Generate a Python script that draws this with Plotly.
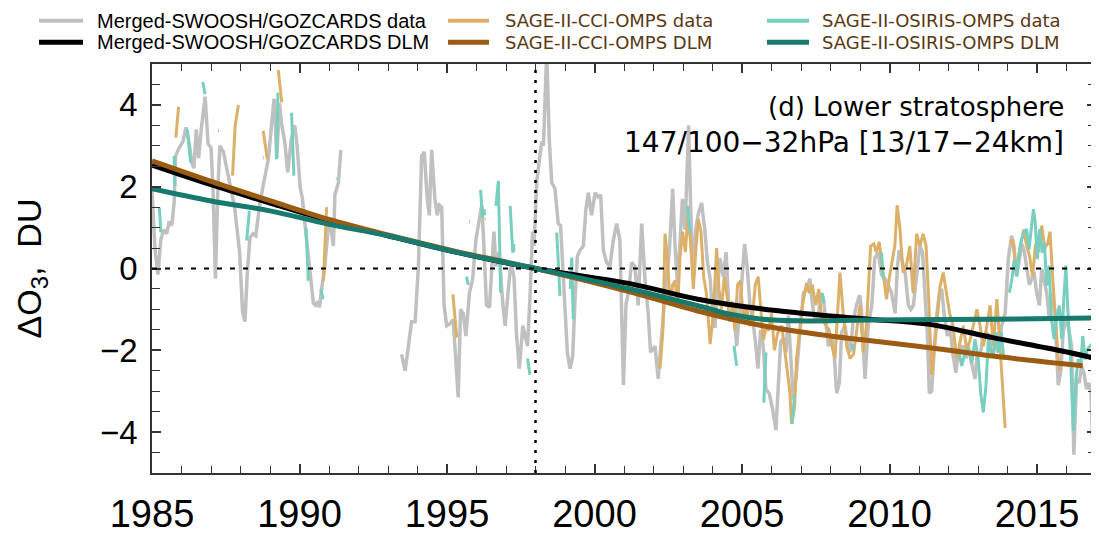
import plotly.graph_objects as go

# ---------------- data ----------------
merged_t = [1985.0, 1985.1, 1985.2, 1985.3, 1985.4, 1985.5, 1985.58, 1985.67, 1985.75, 1985.8, 1985.92,
            1986.05, 1986.15, 1986.25, 1986.35, 1986.42, 1986.5, 1986.58, 1986.67, 1986.8, 1986.9,
            1987.0, 1987.07, 1987.15, 1987.23, 1987.3, 1987.42, 1987.53, 1987.65, 1987.8, 1987.97,
            1988.07, 1988.15, 1988.23, 1988.32, 1988.42, 1988.52, 1988.64, 1988.76, 1988.86, 1988.95,
            1989.05, 1989.14, 1989.23, 1989.32, 1989.4, 1989.5, 1989.6, 1989.72, 1989.84, 1989.92,
            1990.02, 1990.1, 1990.19, 1990.27, 1990.36, 1990.47, 1990.55, 1990.62, 1990.68, 1990.75,
            1990.86, 1990.98, 1991.08, 1991.15, 1991.2, 1991.32, 1991.4,
            None,
            1993.46, 1993.58, 1993.69, 1993.8, 1993.92, 1994.03, 1994.14, 1994.23, 1994.33, 1994.4,
            1994.48, 1994.59, 1994.67, 1994.74, 1994.82, 1994.9, 1994.99, 1995.1, 1995.21, 1995.3,
            1995.38, 1995.46, 1995.55, 1995.64, 1995.76, 1995.87, 1995.98, 1996.06, 1996.18, 1996.25,
            1996.34, 1996.44, 1996.51, 1996.59, 1996.66, 1996.77, 1996.89, 1996.97, 1997.08, 1997.17,
            1997.27, 1997.36, 1997.45, 1997.57, 1997.65, 1997.73, 1997.82, 1997.9, 1997.95, 1998.04,
            1998.13, 1998.21, 1998.27, 1998.33, 1998.38, 1998.47, 1998.55, 1998.66, 1998.77, 1998.85,
            1998.92, 1999.0, 1999.08, 1999.17, 1999.26, 1999.34, 1999.42, 1999.51, 1999.62, 1999.71,
            1999.79, 1999.9, 2000.02, 2000.12, 2000.21, 2000.3, 2000.41, 2000.52, 2000.64, 2000.75,
            2000.86, 2000.98, 2001.07, 2001.15, 2001.26, 2001.37, 2001.48, 2001.6, 2001.71, 2001.82,
            2001.9, 2002.05, 2002.16, 2002.24, 2002.33, 2002.42, 2002.54, 2002.65, 2002.73, 2002.81,
            2002.9, 2002.98, 2003.07, 2003.15, 2003.19, 2003.26, 2003.35, 2003.43, 2003.52, 2003.63,
            2003.74, 2003.82, 2003.92, 2004.0, 2004.08, 2004.16, 2004.25, 2004.37, 2004.46, 2004.55,
            2004.65, 2004.73, 2004.82, 2004.91, 2005.0, 2005.09, 2005.18, 2005.27, 2005.36, 2005.45,
            2005.54, 2005.63, 2005.72, 2005.81, 2005.92, 2006.04, 2006.15, 2006.23, 2006.31, 2006.4,
            2006.49, 2006.57, 2006.65, 2006.74, 2006.83, 2006.91, 2006.99, 2007.08, 2007.2, 2007.3,
            2007.39, 2007.47, 2007.58, 2007.67, 2007.76, 2007.85, 2007.93, 2008.04, 2008.12, 2008.21,
            2008.3, 2008.38, 2008.49, 2008.6, 2008.66, 2008.77, 2008.88, 2008.99, 2009.05, 2009.12,
            2009.17, 2009.28, 2009.4, 2009.5, 2009.62, 2009.73, 2009.85, 2009.96, 2010.07, 2010.19,
            2010.27, 2010.33, 2010.41, 2010.53, 2010.64, 2010.72, 2010.81, 2010.92, 2011.03, 2011.12,
            2011.2, 2011.28, 2011.35, 2011.43, 2011.51, 2011.6, 2011.69, 2011.77, 2011.85, 2011.96,
            2012.05, 2012.14, 2012.25, 2012.33, 2012.39, 2012.5, 2012.59, 2012.67, 2012.78, 2012.9,
            2012.98, 2013.07, 2013.16, 2013.27, 2013.38, 2013.46, 2013.58, 2013.69, 2013.8, 2013.92,
            2014.03, 2014.14, 2014.22, 2014.31, 2014.4, 2014.48, 2014.56, 2014.65, 2014.74, 2014.82,
            2014.9, 2014.99, 2015.08, 2015.16, 2015.24, 2015.33, 2015.42, 2015.5, 2015.61, 2015.72,
            2015.8, 2015.89, 2015.98, 2016.06, 2016.17, 2016.25, 2016.34, 2016.43, 2016.51, 2016.59,
            2016.68, 2016.77, 2016.83, 2016.91, 2016.97, 2017.0]
merged_v = [1.9, 0.5, -0.15, 0.7, 0.95, 0.85, 1.15, 1.05, 1.6, 2.75, 2.95,
            3.1, 3.45, 3.1, 2.6, 2.45, 3.4, 2.7, 3.4, 4.2, 3.05,
            2.95, 1.9, -0.25, 1.9, 3.0, 2.85, 2.45, 2.0, 1.5, 0.4,
            -1.05, -1.3, -0.1, 0.75, 0.85, 0.8, 1.5, 2.0, 2.35, 2.7,
            3.5, 4.15, 2.7, 4.05, 3.5, 3.1, 2.35, 3.15, 3.5, 3.0,
            2.0, 1.7, 1.05, 0.4, -0.1, -0.85, -0.9, -0.8, -0.95, -0.5,
            0.05, 1.05, 0.9, 0.55, 1.8, 2.1, 2.9,
            None,
            -2.1, -2.5, -1.9, -1.3, -1.3, 0.05, 2.75, 2.85, 1.7, 1.3,
            2.9, 1.7, 1.3, 1.55, 1.5, -0.9, -1.4, -1.35, -1.25, -2.2,
            -3.15, -1.0, -1.1, -1.65, -0.6, -0.25, 0.7, 1.05, 1.55, 0.55,
            -0.9, -0.95, 0.05, 0.9, 0.05, 0.4, -0.85, -1.4, -0.5, 0.15,
            -0.2, -1.65, -2.45, -1.4, -1.65, -1.9, -0.6, 0.9, 0.55, 2.1,
            2.65, 3.1, 3.0, 4.4, 5.3, 3.1, 2.1, 1.95, 1.1, 1.05,
            0.15, -1.05, -2.05, -2.45, -2.15, -0.75, 0.3, 0.45, 0.55, 1.45,
            1.85, 1.3, 1.85, 1.75, 1.8, 0.45, 0.15, 0.05, 0.7, 1.1,
            0.7, -2.85, -0.85, -0.6, 0.15, 0.05, -0.9, 1.1, -0.25, -1.1,
            -2.05, -1.9, -2.7, -1.95, -1.1, -0.4, 0.45, 1.95, 0.55, -0.35,
            0.65, 1.7, 0.95, 2.35, 3.5, 1.45, -0.25, 0.95, 1.35, 1.6,
            0.95, 0.2, -0.25, -1.1, -1.45, -0.6, 0.25, -0.2, 0.4, -0.9,
            -0.85, -1.15, -1.9, -1.1, -0.25, 0.6, 0.0, -0.9, -1.25, -1.75,
            -2.45, -1.5, -1.9, -2.95, -3.05, -3.45, -3.95, -2.85, -1.8, -1.7,
            -2.05, -1.15, -2.05, -3.2, -2.7, -2.05, -1.4, -0.6, -0.5, -0.25,
            -0.9, -1.25, -1.25, -0.6, -0.75, -1.4, -1.9, -1.65, -2.05, -3.05,
            -2.8, -1.55, -1.4, -1.9, -2.05, -1.3, -0.9, -0.65, -1.0, -2.05,
            -2.7, -1.4, -0.9, 0.25, 0.4, -0.15, -0.25, -0.4, -0.6, -1.1,
            0.05, 0.45, 0.2, -0.1, -0.9, -1.0, -0.9, -0.25, 0.55, 0.4,
            -0.6, -1.55, -3.05, -3.0, -2.05, -1.15, -0.6, -0.5, -1.1, -1.65,
            -1.4, -2.05, -2.55, -2.05, -1.97, -1.89, -2.2, -1.89, -2.3, -2.7,
            -2.05, -2.15, -1.7, -1.55, -1.65, -2.05, -1.9, -2.05, -1.4, -1.1,
            0.25, 0.8, 0.55, -0.2, 0.2, 0.6, 0.45, 0.05, -0.4, -0.25,
            -0.1, -0.6, -0.9, 0.0, -0.25, -0.6, -1.25, -0.6, -1.1, -2.85,
            -2.55, -1.55, -1.25, -1.4, -1.9, -4.55, -2.7, -2.8, -2.4, -2.55,
            -2.95, -2.8, -3.05, -4.75, -3.6, -4.6]

cci_t = [1985.81, 1985.9, None,
         1987.73, 1987.82, 1987.93, None,
         1988.77, 1988.91, None,
         1989.28, 1989.4, None,
         1990.81, 1990.92, None,
         1995.2, 1995.33, None,
         1995.75, 1995.78, None,
         1996.28, 1996.31, None,
         1997.25, 1997.28, None,
         2002.22, 2002.32, 2002.39, 2002.48, 2002.56, 2002.65, 2002.73, 2002.82, 2002.9, 2002.99,
         2003.08, 2003.17, 2003.26, 2003.35, 2003.44, 2003.52, 2003.61, 2003.7, 2003.79, 2003.92,
         2004.03, 2004.14, 2004.22, 2004.3, 2004.4, 2004.5, 2004.58, 2004.68, 2004.76, 2004.85,
         2004.95, 2005.05, 2005.15, 2005.25, 2005.35, 2005.45, 2005.55, 2005.63, 2005.72, 2005.8,
         2005.9, 2006.0, 2006.1, 2006.2, 2006.35, 2006.5, 2006.62, 2006.68, 2006.78, 2006.85,
         2006.95, 2007.05, 2007.19, 2007.28, 2007.38, 2007.5, 2007.6, 2007.7, 2007.85, 2007.95,
         2008.05, 2008.15, 2008.32, 2008.43, 2008.55, 2008.66, 2008.78, 2008.88, 2009.0, 2009.11,
         2009.22, 2009.36, 2009.47, 2009.55, 2009.65, 2009.78, 2009.9, 2010.0, 2010.18, 2010.26,
         2010.35, 2010.46, 2010.57, 2010.69, 2010.8, 2010.92, 2011.03, 2011.14, 2011.24, 2011.32,
         2011.43, 2011.6, 2011.71, 2011.82, 2011.93, 2012.04, 2012.15, 2012.28, 2012.39, 2012.5,
         2012.62, 2012.73, 2012.84, 2012.96, 2013.07, 2013.18, 2013.3, 2013.41, 2013.52, 2013.64,
         2013.73, 2013.92, None,
         2014.08, 2014.18, 2014.3, 2014.42, 2014.55, 2014.65, 2014.75, 2014.85, 2014.95, 2015.05,
         2015.16, 2015.26, 2015.36, 2015.44, 2015.53, 2015.62, 2015.72, 2015.78]
cci_v = [3.2, 3.95, None,
         2.27, 3.5, 4.0, None,
         3.37, 2.67, None,
         4.85, 4.06, None,
         -0.3, 1.5, None,
         -0.63, -1.69, None,
         1.14, 1.14, None,
         1.21, 1.21, None,
         0.5, 0.42, None,
         -2.45, -1.5, 0.85, 0.2, -0.9, -0.4, -0.3, -0.9, 0.3, 0.9,
         0.4, 1.3, 0.6, -0.5, 0.5, 1.2, 0.9, -0.2, -0.6, -1.85,
         -1.1, 0.5, -0.5, -1.0, -0.2, -0.7, -1.3, -0.9, -1.5, -0.4,
         -0.3, -1.3, -0.9, -1.4, -1.2, -0.4, -0.2, -1.0, -1.75, -1.5,
         -1.5, -1.1, -2.0, -1.6, -1.4, -2.3, -3.0, -3.8, -3.4, -2.2,
         -1.5, -0.9, -0.35, -0.6, -0.4, -0.9, -0.5, -1.2, -1.4, -1.5,
         -1.9, -2.2, -0.1, -1.1, -1.9, -2.2, -2.1, -1.6, -0.9, -2.05,
         -1.4, 0.55, 0.6, 0.4, 0.65, -0.1, -0.75, -0.2, 0.55, 1.55,
         1.0, -0.1, 0.05, 0.55, -0.6, 0.85, 0.55, 0.85, 0.55, -0.6,
         -2.6, -1.4, -0.45, -0.1, -0.6, -1.1, -1.4, -2.2, -1.8, -1.4,
         -2.0, -1.75, -1.4, -1.0, -1.4, -1.9, -1.4, -0.9, -1.9, -0.75,
         -1.7, -3.9, None,
         0.6, 0.7, -0.1, 0.5, 0.95, 0.55, 0.3, -0.2, 0.6, 0.4,
         1.05, 0.5, 0.6, 0.9, -0.2, -1.1, -2.2, -2.5]

osiris_t = [1985.25, 1985.3, None, 1985.75, 1985.78, None, 1986.2, 1986.31, None,
            1986.72, 1986.8, None, 1987.24, 1987.27, None, 1988.21, 1988.3, None,
            1988.76, 1988.79, None, 1989.22, 1989.27, None, 1989.73, 1989.81, None,
            1990.22, 1990.3, None, 1990.72, 1990.8, None, 1991.25, 1991.28, None,
            1995.66, 1995.72, None, 1996.14, 1996.2, 1996.25, 1996.28, None,
            1996.66, 1996.74, 1996.82, None, 1997.14, 1997.23, 1997.27, None,
            1997.73, 1997.81, None, 1998.72, 1998.83, None, 1999.18, 1999.23, 1999.28, None,
            2003.15, 2003.24, None, 2004.73, 2004.82, None, 2005.74, 2005.81, None,
            2006.7, 2006.78, None, 2007.72, 2007.78, None, 2008.73, 2008.78, None,
            2009.73, 2009.79, None,
            2012.33, 2012.45, 2012.56, 2012.67, 2012.79, 2012.9, 2013.01, 2013.09, 2013.18, 2013.27,
            2013.35, 2013.44, 2013.52, 2013.61, 2013.7, 2013.79, 2013.88, None,
            2014.06, 2014.15, 2014.23, 2014.31, 2014.4, 2014.48, 2014.56, 2014.65, 2014.73, 2014.81,
            2014.88, 2014.94, 2015.01, 2015.09, 2015.17, 2015.25, 2015.33, 2015.41, 2015.49, 2015.58,
            2015.67, 2015.76, 2015.84, 2015.92, 2015.98, 2016.06, 2016.14, 2016.23, 2016.32, 2016.4,
            2016.48, 2016.55, 2016.63, 2016.71, 2016.8, 2016.85]
osiris_v = [1.49, 0.88, None, 2.75, 2.02, None, 3.4, 2.59, None,
            4.56, 4.26, None, 3.37, 3.37, None, 0.68, 1.41, None,
            2.71, 2.71, None, 2.67, 4.3, None, 3.81, 2.27, None,
            1.0, -0.3, None, -0.5, -0.75, None, 2.18, 2.2, None,
            -0.2, -0.4, None, 1.92, 1.25, 1.45, 1.3, None,
            1.53, 2.14, -0.59, None, 1.53, 0.39, 0.6, None,
            -2.2, -2.6, None, 0.88, -0.67, None, -0.5, 0.27, -1.24, None,
            1.53, 0.88, None, -1.89, -2.38, None, -3.28, -2.05, None,
            -3.8, -3.1, None, -0.6, -0.85, None, -1.85, -2.0, None,
            0.39, -0.26, None,
            -1.97, -2.38, -2.05, -1.97, -2.3, -1.73, -2.22, -3.03, -3.52, -2.87,
            -1.73, -2.05, -2.14, -1.56, -2.05, -1.56, -2.22, None,
            -0.59, -0.26, 0.23, -0.18, 0.39, 0.72, 0.88, 0.96, 0.47, 1.04,
            1.45, 1.12, 0.23, 0.96, 0.39, 0.63, -0.42, 0.07, -1.24, -1.73,
            -1.16, -0.91, -1.73, -0.59, 0.07, -1.24, -2.22, -3.97, -2.7, -2.22,
            -2.38, -1.65, -2.22, -1.97, -1.89, -1.85]

merged_dlm_t = [1985, 1987, 1989, 1991, 1993, 1995.3, 1998, 2001.2, 2003.5, 2005.7, 2008, 2009.3, 2011.3, 2013.5, 2015.8, 2017]
merged_dlm_v = [2.53, 2.05, 1.6, 1.17, 0.8, 0.4, 0.0, -0.37, -0.75, -0.99, -1.16, -1.24, -1.36, -1.69, -2.01, -2.2]
cci_dlm_t = [1985, 1987, 1989, 1991, 1993, 1995.3, 1998, 2001.2, 2003.5, 2005.7, 2008, 2009.3, 2011.3, 2013.5, 2016.55]
cci_dlm_v = [2.63, 2.13, 1.66, 1.2, 0.82, 0.42, 0.0, -0.57, -1.04, -1.4, -1.65, -1.76, -1.93, -2.14, -2.38]
osiris_dlm_t = [1985, 1987, 1989, 1991, 1993, 1995.3, 1998, 2001.2, 2003.5, 2004.6, 2005.7, 2006.9, 2009.3, 2013.5, 2017]
osiris_dlm_v = [1.95, 1.65, 1.41, 1.08, 0.8, 0.4, 0.0, -0.5, -0.91, -1.12, -1.24, -1.28, -1.26, -1.24, -1.21]

x_ticks = [1985, 1990, 1995, 2000, 2005, 2010, 2015]
y_ticks = [-4, -2, 0, 2, 4]
ref_year = 1998
title_lines = ["(d) Lower stratosphere", "147/100\u221232hPa [13/17\u221224km]"]

series_names = ["Merged-SWOOSH/GOZCARDS data", "SAGE-II-CCI-OMPS data", "SAGE-II-OSIRIS-OMPS data",
                "Merged-SWOOSH/GOZCARDS DLM", "SAGE-II-CCI-OMPS DLM", "SAGE-II-OSIRIS-OMPS DLM"]

# ---------------- styles ----------------
C_GRAY, C_TAN, C_CYAN = "#c0c0c0", "#dcb068", "#78cfc0"
C_BLACK, C_BROWN, C_TEAL = "#000000", "#9b5b12", "#177a6c"
BROWN_TXT = "#5a3912"

fig = go.Figure()
traces = [
    (merged_t, merged_v, series_names[0], dict(color=C_GRAY, width=3.5)),
    (cci_t, cci_v, series_names[1], dict(color=C_TAN, width=3)),
    (osiris_t, osiris_v, series_names[2], dict(color=C_CYAN, width=3)),
    (merged_dlm_t, merged_dlm_v, series_names[3], dict(color=C_BLACK, width=5, shape="spline", smoothing=1.0)),
    (cci_dlm_t, cci_dlm_v, series_names[4], dict(color=C_BROWN, width=5, shape="spline", smoothing=1.0)),
    (osiris_dlm_t, osiris_dlm_v, series_names[5], dict(color=C_TEAL, width=5, shape="spline", smoothing=1.0)),
]
for tx, vy, nm, ln in traces:
    fig.add_trace(go.Scatter(x=tx, y=vy, mode="lines", name=nm, line=ln, showlegend=False))

fig.add_hline(y=0, line=dict(color="black", width=2, dash="5px,8px"))
fig.add_vline(x=ref_year, line=dict(color="black", width=2.5, dash="3px,7px"))

fig.add_annotation(text=title_lines[0], xref="paper", yref="paper", x=0.968, y=0.895,
                   xanchor="right", yanchor="middle", showarrow=False,
                   font=dict(family="DejaVu Sans", size=26, color="black"))
fig.add_annotation(text=title_lines[1], xref="paper", yref="paper", x=0.968, y=0.808,
                   xanchor="right", yanchor="middle", showarrow=False,
                   font=dict(family="DejaVu Sans", size=28, color="black"))

# ---------------- legend (three columns x two rows) ----------------
leg_rows_y = [1.106, 1.053]
leg_cols = [(-0.1197, -0.0731, -0.0604, "Liberation Sans", 20, "black"),
            (0.3136, 0.357, 0.3718, "DejaVu Sans", 18, BROWN_TXT),
            (0.6515, 0.696, 0.7076, "DejaVu Sans", 18, BROWN_TXT)]
leg_colors = [[C_GRAY, C_BLACK], [C_TAN, C_BROWN], [C_CYAN, C_TEAL]]
leg_widths = [4, 5]
for ci, (x0, x1, xt, fam, fs, fc) in enumerate(leg_cols):
    for ri, yy in enumerate(leg_rows_y):
        fig.add_shape(type="line", xref="paper", yref="paper", x0=x0, x1=x1, y0=yy, y1=yy,
                      line=dict(color=leg_colors[ci][ri], width=leg_widths[ri]))
        fig.add_annotation(text=series_names[ri * 3 + ci], xref="paper", yref="paper", x=xt, y=yy,
                           xanchor="left", yanchor="middle", showarrow=False,
                           font=dict(family=fam, size=fs, color=fc))

fig.update_layout(
    width=1091, height=528,
    margin=dict(l=144, r=3, t=56, b=63, autoexpand=False),
    paper_bgcolor="white", plot_bgcolor="white",
    showlegend=False,
    xaxis=dict(range=[1985, 2017], tickvals=x_ticks, ticks="inside", ticklen=9, tickwidth=1.5,
               tickcolor="#333", showline=True, linecolor="#333", linewidth=1.5, mirror="ticks",
               showgrid=False, zeroline=False, automargin=False,
               minor=dict(ticks="inside", dtick=1, ticklen=7, tickwidth=1.2, tickcolor="#333"),
               tickfont=dict(family="Liberation Sans", size=38, color="black"), ticklabelstandoff=7),
    yaxis=dict(range=[-5, 5], tickvals=y_ticks, ticks="inside", ticklen=9, tickwidth=1.5,
               tickcolor="#333", showline=True, linecolor="#333", linewidth=1.5, mirror="ticks",
               showgrid=False, zeroline=False, automargin=False,
               minor=dict(ticks="inside", dtick=0.5, ticklen=8, tickwidth=1.2, tickcolor="#333"),
               tickfont=dict(family="Liberation Sans", size=33, color="black"), ticklabelstandoff=6,
               title=dict(text="\u0394O<sub>3</sub>,\u00a0 DU", standoff=48,
                          font=dict(family="Liberation Sans", size=34, color="black"))),
)

fig.write_html("out.html")
